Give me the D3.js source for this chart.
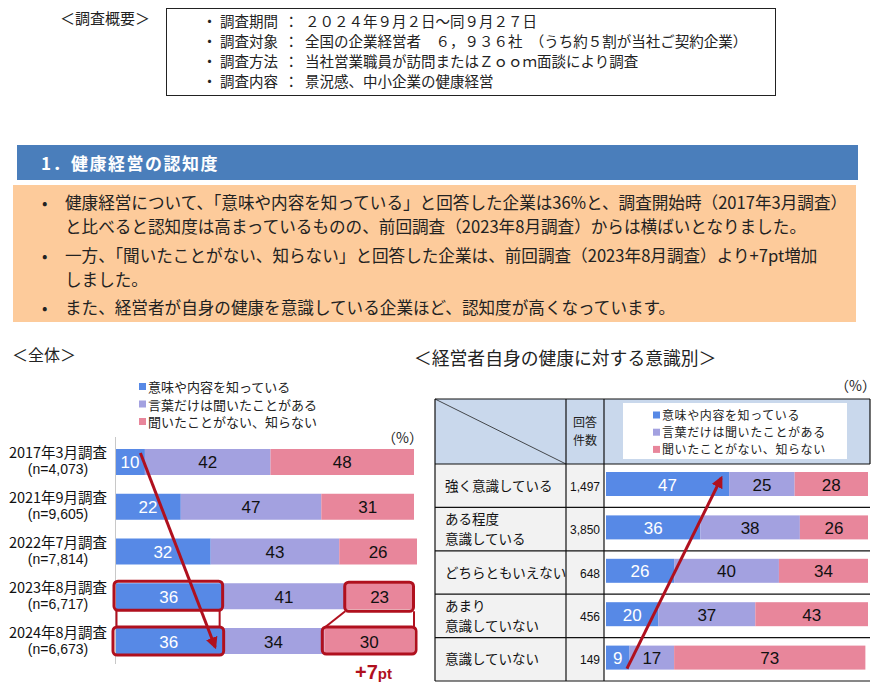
<!DOCTYPE html>
<html><head><meta charset="utf-8">
<script src="https://cdn.jsdelivr.net/npm/d3@7/dist/d3.min.js"></script>
<style>
html,body{margin:0;padding:0;background:#fff;}
svg{display:block;font-family:"Noto Sans CJK JP","Noto Sans",sans-serif;}
</style></head>
<body>
<svg id="c" width="887" height="690"></svg>
<script>
// ---------- data ----------
const overviewLabels = ["調査期間","調査対象","調査方法","調査内容"];
const overviewValues = ["２０２４年９月２日～同９月２７日","全国の企業経営者　６，９３６社　（うち約５割が当社ご契約企業）","当社営業職員が訪問またはＺｏｏｍ面談により調査","景況感、中小企業の健康経営"];
const summaryBullets = [
  ["健康経営について、「意味や内容を知っている」と回答した企業は36%と、調査開始時（2017年3月調査）","と比べると認知度は高まっているものの、前回調査（2023年8月調査）からは横ばいとなりました。"],
  ["一方、「聞いたことがない、知らない」と回答した企業は、前回調査（2023年8月調査）より+7pt増加","しました。"],
  ["また、経営者が自身の健康を意識している企業ほど、認知度が高くなっています。"]
];
const seriesNames = ["意味や内容を知っている","言葉だけは聞いたことがある","聞いたことがない、知らない"];
const surveys = ["2017年3月調査","2021年9月調査","2022年7月調査","2023年8月調査","2024年8月調査"];
const surveyN = ["(n=4,073)","(n=9,605)","(n=7,814)","(n=6,717)","(n=6,673)"];
const totalKnow = [10,22,32,36,36];
const totalHeard = [42,47,43,41,34];
const totalNot = [48,31,26,23,30];
const awareness = [["強く意識している"],["ある程度","意識している"],["どちらともいえない"],["あまり","意識していない"],["意識していない"]];
const awarenessCount = ["1,497","3,850","648","456","149"];
const awareKnow = [47,36,26,20,9];
const awareHeard = [25,38,40,37,17];
const awareNot = [28,26,34,43,73];

const colors = ["#5789E6","#A3A1E0","#E8869B"];
const red = "#B0101E";
const latin = "'Liberation Sans',Arial,sans-serif";

const svg = d3.select("#c");
svg.append("rect").attr("width",887).attr("height",690).attr("fill","#fff");
const defs = svg.append("defs");
defs.append("marker").attr("id","ah").attr("viewBox","0 0 10 10").attr("refX",8).attr("refY",5)
  .attr("markerWidth",4).attr("markerHeight",4).attr("orient","auto")
  .append("path").attr("d","M0,0 L10,5 L0,10 z").attr("fill",red);

// ---------- overview ----------
svg.append("text").attr("x",60).attr("y",24).attr("font-size",15).attr("fill","#222").text("＜調査概要＞");
svg.append("rect").attr("x",166.5).attr("y",8.5).attr("width",609).attr("height",87).attr("fill","none").attr("stroke","#222").attr("stroke-width",1);
overviewLabels.forEach((l,i)=>{
  const y = 27 + i*20;
  svg.append("text").attr("x",202).attr("y",y).attr("font-size",15).attr("fill","#222").text("・");
  svg.append("text").attr("x",220).attr("y",y).attr("font-size",14.5).attr("fill","#222").text(l);
  svg.append("text").attr("x",284).attr("y",y).attr("font-size",14.5).attr("fill","#222").text("：");
  svg.append("text").attr("x",305).attr("y",y).attr("font-size",14.5).attr("fill","#222").text(overviewValues[i]);
});

// ---------- section header ----------
svg.append("rect").attr("x",17).attr("y",145).attr("width",841).attr("height",35).attr("fill","#4A7EBB");
svg.append("text").attr("x",41).attr("y",170).attr("font-size",17).attr("font-weight","bold").attr("letter-spacing","1.5").attr("fill","#fff").text("1．健康経営の認知度");

svg.append("rect").attr("x",13).attr("y",185).attr("width",843).attr("height",137).attr("fill","#FDCB9B");
const lineYs = [[209,233],[262,286],[314]];
summaryBullets.forEach((b,i)=>{
  svg.append("text").attr("x",42).attr("y",lineYs[i][0]).attr("font-size",16).attr("fill","#222").text("•");
  b.forEach((t,j)=>{
    svg.append("text").attr("x",65).attr("y",lineYs[i][j]).attr("font-size",16.6).attr("fill","#222").text(t);
  });
});

// ---------- left chart ----------
svg.append("text").attr("x",12).attr("y",361).attr("font-size",16).attr("fill","#222").text("＜全体＞");
seriesNames.forEach((s,i)=>{
  const y = 387 + i*17.5;
  svg.append("rect").attr("x",139).attr("y",y-4).attr("width",7).attr("height",7).attr("fill",colors[i]);
  svg.append("text").attr("x",148).attr("y",y+5).attr("font-size",13).attr("fill","#222").text(s);
});
svg.append("text").attr("x",382).attr("y",443).attr("font-size",14).attr("fill","#222").text("（%）");

const lx = d3.scaleLinear().domain([0,100]).range([115,414]);
const ly = d3.scaleBand().domain(surveys).range([449,654]).paddingInner(0.419).paddingOuter(0);
const leftRows = surveys.map((s,i)=>({name:s,vals:[totalKnow[i],totalHeard[i],totalNot[i]]}));
const lg = svg.append("g");
leftRows.forEach((r,i)=>{
  let acc = 0;
  r.vals.forEach((v,k)=>{
    lg.append("rect").attr("x",lx(acc)).attr("y",ly(r.name)).attr("width",lx(acc+v)-lx(acc)).attr("height",ly.bandwidth()).attr("fill",colors[k]);
    lg.append("text").attr("x",(lx(acc)+lx(acc+v))/2).attr("y",ly(r.name)+ly.bandwidth()/2+6.5)
      .attr("text-anchor","middle").attr("font-size",17).attr("font-family","'Liberation Sans Narrow','Liberation Sans',Arial,sans-serif")
      .attr("fill",k===0?"#fff":"#111").text(v);
    acc += v;
  });
  const cy = ly(r.name)+ly.bandwidth()/2;
  lg.append("text").attr("x",58).attr("y",cy-3.5).attr("text-anchor","middle").attr("font-size",14.5).attr("fill","#111").text(r.name);
  lg.append("text").attr("x",58).attr("y",cy+12.5).attr("text-anchor","middle").attr("font-size",14).attr("font-family",latin).attr("fill","#111").text(surveyN[i]);
});
svg.append("line").attr("x1",115.5).attr("x2",115.5).attr("y1",437).attr("y2",664).attr("stroke","#C8C8C8").attr("stroke-width",1);

// highlight boxes
const y23 = ly(surveys[3]), y24 = ly(surveys[4]), bw = ly.bandwidth();
const hb = svg.append("g").attr("fill","none").attr("stroke",red);
hb.append("rect").attr("x",lx(0)-1).attr("y",y23-2).attr("width",lx(36)-lx(0)+1).attr("height",bw+3).attr("rx",4).attr("stroke-width",3);
hb.append("rect").attr("x",lx(0)-2).attr("y",y24-1).attr("width",lx(36)-lx(0)+3).attr("height",bw+2).attr("rx",4).attr("stroke-width",3);
hb.append("line").attr("x1",lx(0)+1.5).attr("x2",lx(0)+1.5).attr("y1",y23+bw+1).attr("y2",y24-1).attr("stroke-width",2);
hb.append("line").attr("x1",lx(36)-3).attr("x2",lx(36)-3).attr("y1",y23+bw+1).attr("y2",y24-1).attr("stroke-width",2);
hb.append("rect").attr("x",lx(77)-0.5).attr("y",y23-1).attr("width",lx(100)-lx(77)).attr("height",bw+3).attr("rx",4).attr("stroke-width",3);
hb.append("rect").attr("x",lx(70)-2).attr("y",y24-1).attr("width",lx(100)-lx(70)+4).attr("height",bw+1).attr("rx",4).attr("stroke-width",3);
hb.append("line").attr("x1",lx(77)).attr("x2",lx(70)+1).attr("y1",y23+bw+2).attr("y2",y24-1).attr("stroke-width",2);
hb.append("line").attr("x1",lx(100)).attr("x2",lx(100)).attr("y1",y23+bw+2).attr("y2",y24-1).attr("stroke-width",2);
const pt = svg.append("text").attr("x",355).attr("y",679).attr("fill",red).attr("font-weight","bold").attr("font-family",latin);
pt.append("tspan").attr("font-size",20).text("+7");
pt.append("tspan").attr("font-size",15).text("pt");

// left arrow
svg.append("line").attr("x1",lx(8.5)).attr("y1",ly(surveys[0])+4).attr("x2",lx(33.5)).attr("y2",y24+bw-7)
  .attr("stroke",red).attr("stroke-width",3).attr("marker-end","url(#ah)");

// ---------- right chart ----------
svg.append("text").attr("x",414).attr("y",365).attr("font-size",17.8).attr("fill","#222").text("＜経営者自身の健康に対する意識別＞");
svg.append("text").attr("x",835).attr("y",391).attr("font-size",14).attr("fill","#222").text("（%）");

const tL=435, c1=566, c2=604, tR=870, tT=399, hB=464, tB=681;
const ry = d3.scaleBand().domain(d3.range(awareness.length)).range([hB,tB]).padding(0);
const rx = d3.scaleLinear().domain([0,100]).range([606,868]);
svg.append("rect").attr("x",tL).attr("y",tT).attr("width",tR-tL).attr("height",hB-tT).attr("fill","#C9D8EC");
svg.append("rect").attr("x",tL).attr("y",hB).attr("width",c2-tL).attr("height",tB-hB).attr("fill","#F2F2F2");
svg.append("rect").attr("x",623).attr("y",403).attr("width",224).attr("height",56).attr("fill","#fff");
seriesNames.forEach((s,i)=>{
  const y = 415.5 + i*17.2;
  svg.append("rect").attr("x",653).attr("y",y-4).attr("width",7).attr("height",7).attr("fill",colors[i]);
  svg.append("text").attr("x",662).attr("y",y+4.5).attr("font-size",12).attr("letter-spacing","0.6").attr("fill","#222").text(s);
});
svg.append("text").attr("x",(c1+c2)/2).attr("y",427).attr("text-anchor","middle").attr("font-size",12).attr("fill","#222").text("回答");
svg.append("text").attr("x",(c1+c2)/2).attr("y",445).attr("text-anchor","middle").attr("font-size",12).attr("fill","#222").text("件数");
svg.append("line").attr("x1",tL).attr("y1",tT).attr("x2",c1).attr("y2",hB).attr("stroke","#222").attr("stroke-width",0.8);

const rg = svg.append("g");
awareness.forEach((lab,i)=>{
  const top = ry(i), h = ry.bandwidth(), cy = top + h/2;
  let acc = 0;
  [awareKnow[i],awareHeard[i],awareNot[i]].forEach((v,k)=>{
    rg.append("rect").attr("x",rx(acc)).attr("y",top+8).attr("width",rx(acc+v)-rx(acc)).attr("height",24).attr("fill",colors[k]);
    rg.append("text").attr("x",(rx(acc)+rx(acc+v))/2).attr("y",top+8+12+6.5).attr("text-anchor","middle")
      .attr("font-size",17).attr("font-family","'Liberation Sans Narrow','Liberation Sans',Arial,sans-serif")
      .attr("fill",k===0?"#fff":"#111").text(v);
    acc += v;
  });
  if(lab.length===1){
    rg.append("text").attr("x",445).attr("y",cy+5).attr("font-size",13.5).attr("fill","#111").text(lab[0]);
  } else {
    rg.append("text").attr("x",445).attr("y",cy-5).attr("font-size",13.5).attr("fill","#111").text(lab[0]);
    rg.append("text").attr("x",445).attr("y",cy+15).attr("font-size",13.5).attr("fill","#111").text(lab[1]);
  }
  rg.append("text").attr("x",600).attr("y",cy+5).attr("text-anchor","end").attr("font-size",12)
    .attr("font-family",latin).attr("fill","#111").text(awarenessCount[i]);
});
const grid = svg.append("g").attr("stroke","#111").attr("stroke-width",1.2);
grid.append("line").attr("x1",tL).attr("x2",tR).attr("y1",tT).attr("y2",tT);
grid.append("line").attr("x1",tL).attr("x2",tR).attr("y1",hB).attr("y2",hB);
awareness.forEach((d,i)=>{
  grid.append("line").attr("x1",tL).attr("x2",tR).attr("y1",ry(i)+ry.bandwidth()).attr("y2",ry(i)+ry.bandwidth());
});
grid.append("line").attr("x1",tL).attr("x2",tL).attr("y1",tT).attr("y2",tB);
grid.append("line").attr("x1",c1).attr("x2",c1).attr("y1",tT).attr("y2",tB);
grid.append("line").attr("x1",c2).attr("x2",c2).attr("y1",tT).attr("y2",tB);
grid.append("line").attr("x1",tR).attr("x2",tR).attr("y1",tT).attr("y2",hB);

// right arrow
svg.append("line").attr("x1",rx(8)).attr("y1",ry(4)+31).attr("x2",rx(44)).attr("y2",ry(0)+14)
  .attr("stroke",red).attr("stroke-width",3).attr("marker-end","url(#ah)");
</script>
</body></html>
